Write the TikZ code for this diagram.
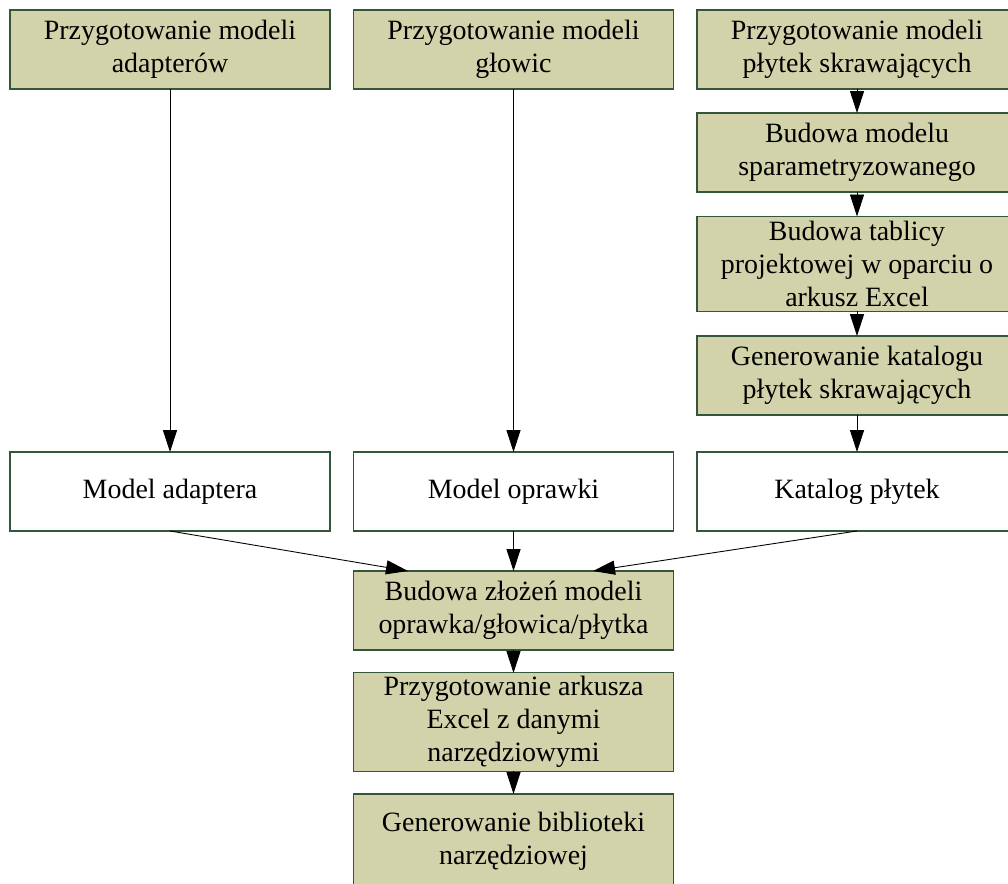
\documentclass[tikz,border=0pt]{standalone}
\usepackage{fontspec}
\setmainfont{Liberation Serif}
\usetikzlibrary{arrows.meta}
\definecolor{stepfill}{RGB}{210,211,170}
\definecolor{stepline}{RGB}{52,86,58}
\tikzset{
    stepbox/.style={draw=stepline,fill=stepfill,line width=0.6pt,minimum width=6.4cm,
        minimum height=1.58cm,align=center,inner sep=2pt,outer sep=0pt,
        font=\fontsize{15.9}{18.7}\selectfont},
    resultbox/.style={stepbox,fill=white},
    flow/.style={-{Triangle[width=8pt,length=12.5pt]},line width=0.5pt}
}
\newcommand\StepNode[4]{%
    \node[stepbox,minimum height=#4] (#1) at (#2) {#3};
}

\begin{document}
\begin{tikzpicture}
    \useasboundingbox (0,0) rectangle (20.16,-17.68);
    % top row
    \StepNode{prepAd}{3.4,-0.99}{Przygotowanie modeli\\adapterów}{1.58cm}
    \StepNode{prepGl}{10.27,-0.99}{Przygotowanie modeli\\głowic}{1.58cm}
    \StepNode{prepPl}{17.14,-0.99}{Przygotowanie modeli\\płytek skrawających}{1.58cm}
    % right column
    \StepNode{budMod}{17.14,-3.05}{Budowa modelu\\sparametryzowanego}{1.58cm}
    \StepNode{budTab}{17.14,-5.28}{Budowa tablicy\\projektowej w oparciu o\\arkusz Excel}{1.9cm}
    \StepNode{genKat}{17.14,-7.51}{Generowanie katalogu\\płytek skrawających}{1.58cm}
    % results
    \node[resultbox] (modAd) at (3.4,-9.83) {Model adaptera};
    \node[resultbox] (modOp) at (10.27,-9.83) {Model oprawki};
    \node[resultbox] (katPl) at (17.14,-9.83) {Katalog płytek};
    % bottom column
    \StepNode{budZl}{10.27,-12.21}{Budowa złożeń modeli\\oprawka/głowica/płytka}{1.58cm}
    \StepNode{przArk}{10.27,-14.44}{Przygotowanie arkusza\\Excel z danymi\\narzędziowymi}{1.88cm}
    \StepNode{genBib}{10.27,-16.82}{Generowanie biblioteki\\narzędziowej}{1.88cm}

    \draw[flow] (prepAd) -- (modAd);
    \draw[flow] (prepGl) -- (modOp);
    \draw[flow] (prepPl) -- (budMod);
    \draw[flow] (budMod) -- (budTab);
    \draw[flow] (budTab) -- (genKat);
    \draw[flow] (genKat) -- (katPl);
    \draw[flow] (modAd.south) -- ([xshift=-2.11cm]budZl.north);
    \draw[flow] (modOp) -- (budZl);
    \draw[flow] (katPl.south) -- ([xshift=1.59cm]budZl.north);
    \draw[flow] (budZl) -- (przArk);
    \draw[flow] (przArk) -- (genBib);
\end{tikzpicture}
\end{document}
